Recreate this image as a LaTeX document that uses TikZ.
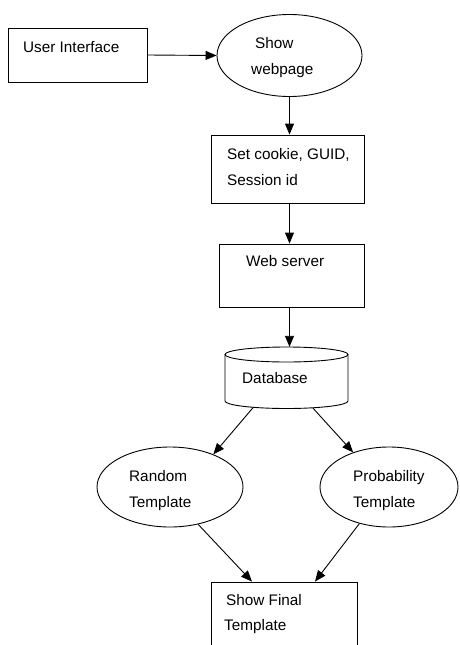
\documentclass[tikz,border=0pt]{standalone}
\usepackage{fontspec}
\setmainfont{Liberation Sans}
\usetikzlibrary{shapes.geometric,arrows.meta}
\begin{document}
\begin{tikzpicture}[x=1pt,y=-1pt,
  box/.style={draw=black, line width=0.9pt, rectangle, inner sep=0pt},
  oval/.style={draw=black, line width=0.9pt, ellipse, inner sep=0pt},
  txt/.style={anchor=base west, inner sep=0pt, font=\fontsize{15.3}{18}\selectfont, text=black},
  arr/.style={draw=black, line width=0.9pt, -{Triangle[length=11pt,width=9pt]}},
  cyl/.style={draw=black, line width=0.9pt}]
\clip (0,0) rectangle (460,645);
\fill[white] (0,0) rectangle (460,645);
% shapes
\node[box, minimum width=139pt, minimum height=54pt] (ui) at (77.5,55) {};
\node[oval, minimum width=145pt, minimum height=82pt] (show) at (289.5,55.5) {};
\node[box, minimum width=153pt, minimum height=68pt] (cookie) at (287.5,169) {};
\node[box, minimum width=145pt, minimum height=63pt] (web) at (291.5,275.5) {};
\node[inner sep=0pt, minimum width=123pt, minimum height=62pt] (db) at (286.5,378) {};
\draw[cyl] (286.5,354.5) ellipse [x radius=61.5, y radius=7.5];
\draw[cyl] (225,354.5) -- (225,401) arc[start angle=180, end angle=0, x radius=61.5, y radius=7.5] -- (348,354.5);
\node[oval, minimum width=146pt, minimum height=80pt] (rand) at (170,487) {};
\node[oval, minimum width=138pt, minimum height=80pt] (prob) at (389,487) {};
\node[box, minimum width=146pt, minimum height=100pt] (final) at (284,632) {};
% texts
\node[txt] (tui) at (23,52) {User Interface};
\node[txt] (tshow1) at (255,48) {Show};
\node[txt] (tshow2) at (251,74) {webpage};
\node[txt] (tck1) at (227,159) {Set cookie, GUID,};
\node[txt] (tck2) at (227,185) {Session id};
\node[txt] (tweb) at (246,266) {Web server};
\node[txt] (tdb) at (242,383) {Database};
\node[txt] (trand1) at (129,481) {Random};
\node[txt] (trand2) at (129,507) {Template};
\node[txt] (tprob1) at (353,481) {Probability};
\node[txt] (tprob2) at (353,507) {Template};
\node[txt] (tfin1) at (226,605) {Show Final};
\node[txt] (tfin2) at (224,630) {Template};
% connectors
\draw[arr] (ui.east) -- (show.west);
\draw[arr] (show.south) -- (show.south |- cookie.north);
\draw[arr] (cookie.south -| show.south) -- (show.south |- web.north);
\draw[arr] (web.south -| show.south) -- (show.south |- db.north);
\draw[arr] ([xshift=-33.5pt,yshift=1.5pt]db.south) -- (rand.37);
\draw[arr] ([xshift=26.5pt,yshift=1pt]db.south) -- (prob.136);
\draw[arr] (rand.-53) -- ([xshift=-32pt]final.north);
\draw[arr] (prob.-129) -- ([xshift=31pt]final.north);
\end{tikzpicture}
\end{document}
